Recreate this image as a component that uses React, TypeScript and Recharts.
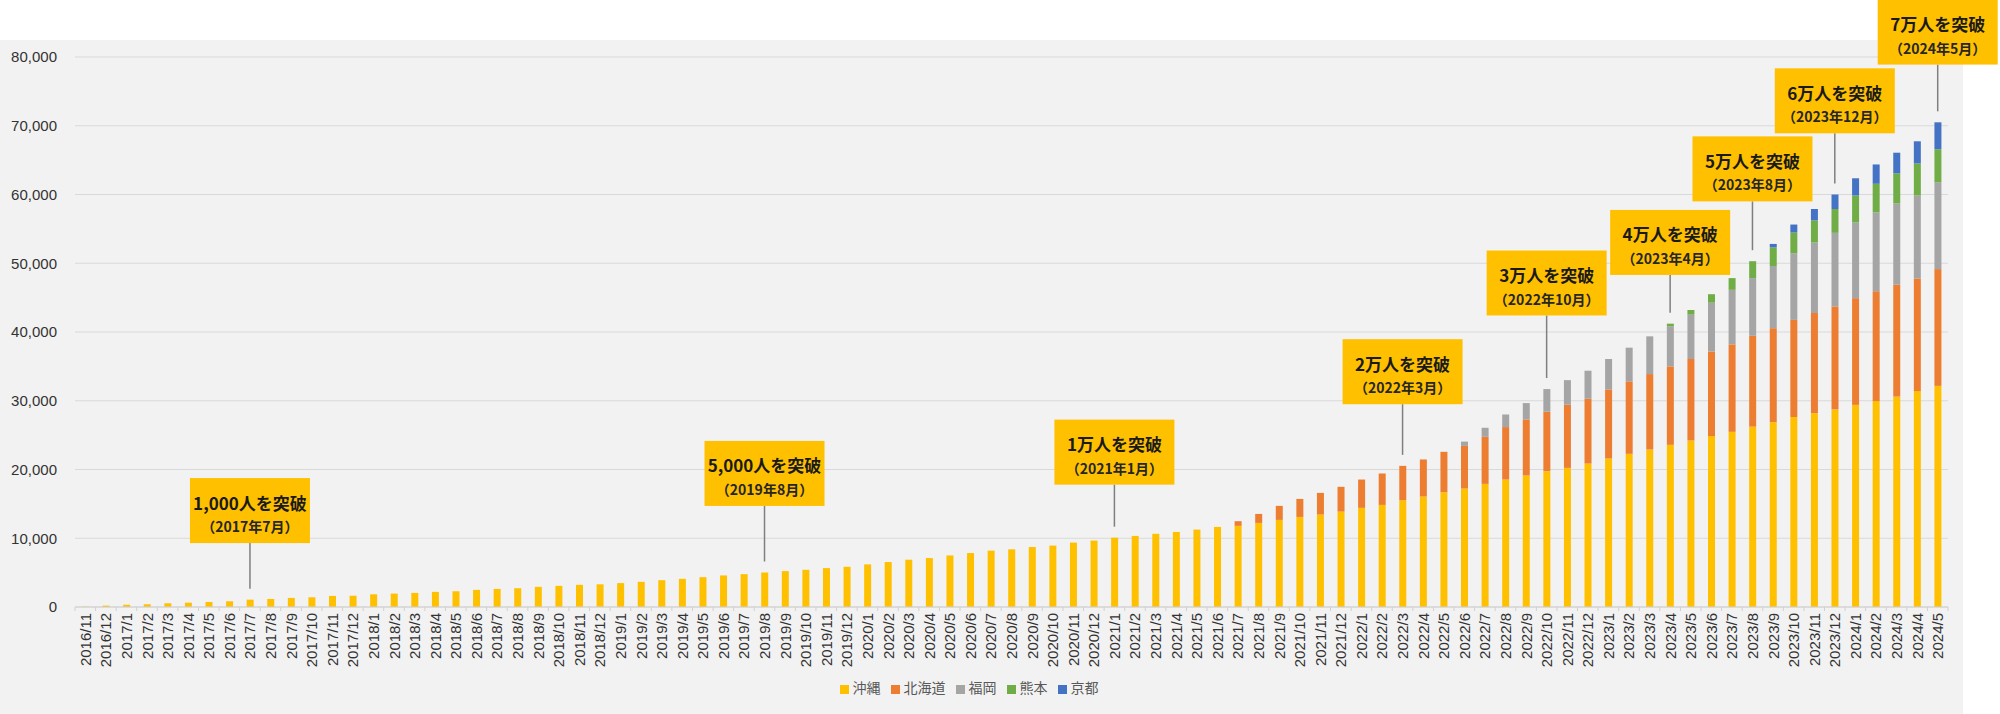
import { BarChart, Bar, XAxis, YAxis, CartesianGrid, Legend, ReferenceLine, ReferenceDot } from 'recharts';

const months = [
  '2016/11', '2016/12',
  '2017/1', '2017/2', '2017/3', '2017/4', '2017/5', '2017/6', '2017/7', '2017/8', '2017/9', '2017/10', '2017/11', '2017/12',
  '2018/1', '2018/2', '2018/3', '2018/4', '2018/5', '2018/6', '2018/7', '2018/8', '2018/9', '2018/10', '2018/11', '2018/12',
  '2019/1', '2019/2', '2019/3', '2019/4', '2019/5', '2019/6', '2019/7', '2019/8', '2019/9', '2019/10', '2019/11', '2019/12',
  '2020/1', '2020/2', '2020/3', '2020/4', '2020/5', '2020/6', '2020/7', '2020/8', '2020/9', '2020/10', '2020/11', '2020/12',
  '2021/1', '2021/2', '2021/3', '2021/4', '2021/5', '2021/6', '2021/7', '2021/8', '2021/9', '2021/10', '2021/11', '2021/12',
  '2022/1', '2022/2', '2022/3', '2022/4', '2022/5', '2022/6', '2022/7', '2022/8', '2022/9', '2022/10', '2022/11', '2022/12',
  '2023/1', '2023/2', '2023/3', '2023/4', '2023/5', '2023/6', '2023/7', '2023/8', '2023/9', '2023/10', '2023/11', '2023/12',
  '2024/1', '2024/2', '2024/3', '2024/4', '2024/5'
];

// 沖縄
const okinawa = [
  50, 200,
  340, 400, 540, 630, 730, 830, 1070, 1170, 1320, 1410, 1610, 1640,
  1850, 1950, 2050, 2200, 2290, 2490, 2630, 2730, 2930, 3070, 3220, 3300,
  3480, 3660, 3900, 4100, 4340, 4590, 4780, 5020, 5220, 5410, 5660, 5850,
  6200, 6540, 6880, 7120, 7500, 7850, 8200, 8390, 8730, 8930, 9370, 9660,
  10080, 10340, 10650, 10920, 11260, 11650, 11800, 12230, 12670, 13100, 13450, 13880,
  14420, 14850, 15530, 16070, 16700, 17230, 17910, 18540, 19130, 19760, 20240, 20870,
  21600, 22280, 22910, 23590, 24220, 24860, 25480, 26230, 26880, 27640, 28190, 28740,
  29400, 29950, 30600, 31410, 32160
];

// 北海道
const hokkaido = [
  0, 0,
  0, 0, 0, 0, 0, 0, 0, 0, 0, 0, 0, 0,
  0, 0, 0, 0, 0, 0, 0, 0, 0, 0, 0, 0,
  0, 0, 0, 0, 0, 0, 0, 0, 0, 0, 0, 0,
  0, 0, 0, 0, 0, 0, 0, 0, 0, 0, 0, 0,
  0, 0, 0, 0, 0, 0, 680, 1310, 2040, 2620, 3150, 3600,
  4120, 4570, 5000, 5390, 5870, 6200, 6850, 7630, 8150, 8640, 9180, 9420,
  10050, 10540, 10970, 11410, 11850, 12300, 12710, 13220, 13670, 14120, 14570, 14980,
  15520, 15980, 16280, 16380, 16990
];

// 福岡
const fukuoka = [
  0, 0,
  0, 0, 0, 0, 0, 0, 0, 0, 0, 0, 0, 0,
  0, 0, 0, 0, 0, 0, 0, 0, 0, 0, 0, 0,
  0, 0, 0, 0, 0, 0, 0, 0, 0, 0, 0, 0,
  0, 0, 0, 0, 0, 0, 0, 0, 0, 0, 0, 0,
  0, 0, 0, 0, 0, 0, 0, 0, 0, 0, 0, 0,
  0, 0, 0, 0, 0, 630, 1310, 1830, 2380, 3300, 3580, 4080,
  4420, 4900, 5490, 5830, 6450, 7100, 7940, 8390, 9050, 9700, 10260, 10700,
  11010, 11460, 11810, 12060, 12610
];

// 熊本
const kumamoto = [
  0, 0,
  0, 0, 0, 0, 0, 0, 0, 0, 0, 0, 0, 0,
  0, 0, 0, 0, 0, 0, 0, 0, 0, 0, 0, 0,
  0, 0, 0, 0, 0, 0, 0, 0, 0, 0, 0, 0,
  0, 0, 0, 0, 0, 0, 0, 0, 0, 0, 0, 0,
  0, 0, 0, 0, 0, 0, 0, 0, 0, 0, 0, 0,
  0, 0, 0, 0, 0, 0, 0, 0, 0, 0, 0, 0,
  0, 0, 0, 380, 680, 1240, 1710, 2460, 2710, 3010, 3210, 3470,
  3920, 4170, 4380, 4670, 4820
];

// 京都
const kyoto = [
  0, 0,
  0, 0, 0, 0, 0, 0, 0, 0, 0, 0, 0, 0,
  0, 0, 0, 0, 0, 0, 0, 0, 0, 0, 0, 0,
  0, 0, 0, 0, 0, 0, 0, 0, 0, 0, 0, 0,
  0, 0, 0, 0, 0, 0, 0, 0, 0, 0, 0, 0,
  0, 0, 0, 0, 0, 0, 0, 0, 0, 0, 0, 0,
  0, 0, 0, 0, 0, 0, 0, 0, 0, 0, 0, 0,
  0, 0, 0, 0, 0, 0, 0, 0, 500, 1160, 1660, 2110,
  2510, 2810, 3010, 3220, 3920
];

const seriesNames = ['沖縄', '北海道', '福岡', '熊本', '京都'];

const yTicks = [0, 10000, 20000, 30000, 40000, 50000, 60000, 70000, 80000];

// milestone callouts: boxAt = value where the box bottom sits
const milestones = [
  { month: '2017/7', title: '1,000人を突破', date: '（2017年7月）', boxAt: 9300 },
  { month: '2019/8', title: '5,000人を突破', date: '（2019年8月）', boxAt: 14700 },
  { month: '2021/1', title: '1万人を突破', date: '（2021年1月）', boxAt: 17800 },
  { month: '2022/3', title: '2万人を突破', date: '（2022年3月）', boxAt: 29500 },
  { month: '2022/10', title: '3万人を突破', date: '（2022年10月）', boxAt: 42400 },
  { month: '2023/4', title: '4万人を突破', date: '（2023年4月）', boxAt: 48300 },
  { month: '2023/8', title: '5万人を突破', date: '（2023年8月）', boxAt: 59000 },
  { month: '2023/12', title: '6万人を突破', date: '（2023年12月）', boxAt: 68900 },
  { month: '2024/5', title: '7万人を突破', date: '（2024年5月）', boxAt: 78900 }
];

const data = months.map((m, i) => ({
  month: m,
  okinawa: okinawa[i],
  hokkaido: hokkaido[i],
  fukuoka: fukuoka[i],
  kumamoto: kumamoto[i],
  kyoto: kyoto[i],
  total: okinawa[i] + hokkaido[i] + fukuoka[i] + kumamoto[i] + kyoto[i]
}));

const W = 2000;
const H = 714;
const margin = { top: 57, right: 52, left: 0, bottom: 17 };
const yAxisWidth = 75;
const step = (W - yAxisWidth - margin.left - margin.right) / months.length;

const jp = '"Noto Sans CJK JP", "Noto Sans", sans-serif';

const MonthTick = (props: any) => {
  const { x, y, payload, index } = props;
  return (
    <g>
      <line x1={x + step / 2} y1={y - 6} x2={x + step / 2} y2={y - 2} stroke='#d0d0d0' />
      {index === 0 && <line x1={x - step / 2} y1={y - 6} x2={x - step / 2} y2={y - 2} stroke='#d0d0d0' />}
      <text
        x={x}
        y={y}
        transform={`rotate(-90, ${x}, ${y})`}
        textAnchor='end'
        dominantBaseline='central'
        fontSize={15}
        fontFamily='"Liberation Sans", Arial, sans-serif'
        fill='#333'
      >
        {payload.value}
      </text>
    </g>
  );
};

const Callout = (title: string, date: string) => (props: any) => {
  const { cx, cy } = props;
  const w = 120;
  const h = 65;
  return (
    <g>
      <rect x={cx - w / 2} y={cy - h} width={w} height={h} fill='#FFC000' />
      <text x={cx} y={cy - h + 24} textAnchor='middle' dominantBaseline='central' fontSize={17} fontWeight={700} fontFamily={jp} fill='#1a1a1a'>
        {title}
      </text>
      <text x={cx} y={cy - h + 48} textAnchor='middle' dominantBaseline='central' fontSize={14} fontWeight={700} fontFamily={jp} fill='#262626'>
        {date}
      </text>
    </g>
  );
};

const App = () => {
  return (
    <div style={{ position: 'absolute', left: 0, top: 0, width: W, height: H, background: '#fff' }}>
      <div style={{ position: 'absolute', left: 0, top: 40, width: 1963, height: H - 40, background: '#f2f2f2' }} />
      <div style={{ position: 'absolute', left: 0, top: 0 }}>
        <BarChart width={W} height={H} data={data} margin={margin}>
          <CartesianGrid vertical={false} stroke='#d9d9d9' />
          <XAxis
            dataKey='month'
            interval={0}
            height={70}
            tickLine={false}
            tickSize={0}
            tickMargin={6}
            axisLine={{ stroke: '#d0d0d0' }}
            tick={<MonthTick />}
          />
          <YAxis
            width={yAxisWidth}
            domain={[0, 80000]}
            ticks={yTicks}
            interval={0}
            axisLine={false}
            tickLine={false}
            tickSize={0}
            tickMargin={18}
            tickFormatter={(v: number) => v.toLocaleString('en-US')}
            tick={{ fontSize: 15, fill: '#333', fontFamily: '"Liberation Sans", Arial, sans-serif' }}
          />
          <Legend
            verticalAlign='bottom'
            iconType='square'
            iconSize={9}
            itemSorter={(item: any) => seriesNames.indexOf(item.value)}
            wrapperStyle={{ fontSize: 14, fontFamily: jp }}
            formatter={(v: string) => <span style={{ color: '#595959' }}>{v}</span>}
          />
          <Bar dataKey='okinawa' name='沖縄' stackId='a' fill='#FFC000' barSize={7} isAnimationActive={false} />
          <Bar dataKey='hokkaido' name='北海道' stackId='a' fill='#ED7D31' barSize={7} isAnimationActive={false} />
          <Bar dataKey='fukuoka' name='福岡' stackId='a' fill='#A5A5A5' barSize={7} isAnimationActive={false} />
          <Bar dataKey='kumamoto' name='熊本' stackId='a' fill='#70AD47' barSize={7} isAnimationActive={false} />
          <Bar dataKey='kyoto' name='京都' stackId='a' fill='#4472C4' barSize={7} isAnimationActive={false} />
          {milestones.map((ms) => {
            const row = data.find((d) => d.month === ms.month)!;
            return (
              <ReferenceLine
                key={'l' + ms.month}
                segment={[{ x: ms.month, y: row.total + 1600 }, { x: ms.month, y: ms.boxAt }]}
                stroke='#7f7f7f'
                strokeWidth={1.5}
              />
            );
          })}
          {milestones.map((ms) => (
            <ReferenceDot
              key={'d' + ms.month}
              x={ms.month}
              y={ms.boxAt}
              r={0}
              shape={Callout(ms.title, ms.date)}
            />
          ))}
        </BarChart>
      </div>
    </div>
  );
};

export default App;
